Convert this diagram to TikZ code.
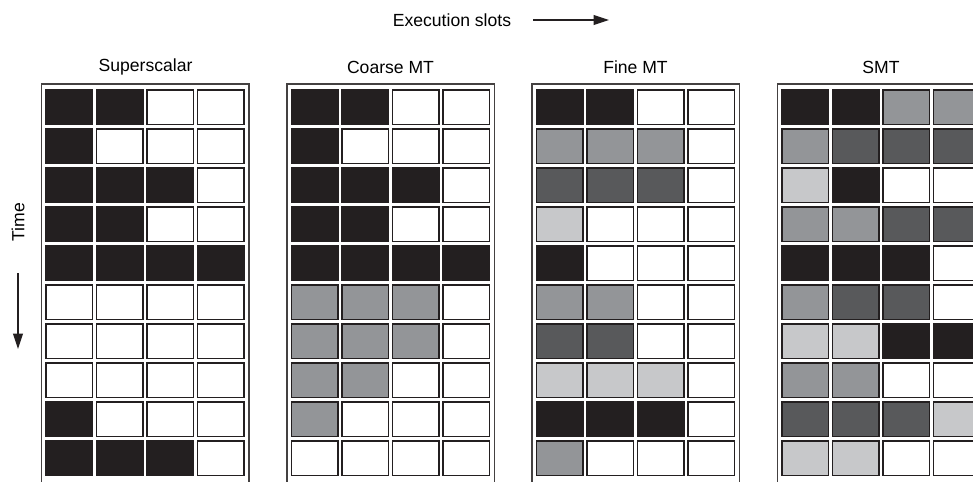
\documentclass[tikz,border=0pt]{standalone}
\usepackage{fontspec}
\setmainfont{Liberation Sans}
\usetikzlibrary{arrows.meta}

\begin{document}
\begin{tikzpicture}[x=0.025cm,y=-0.025cm,font=\fontsize{12.5}{15}\selectfont,
    cellbox/.style={draw=cellB,line width=1.1pt},
    panelframe/.style={draw=cellB!85,line width=0.9pt},
    slotarrow/.style={-{Triangle[length=11pt,width=7pt]},line width=0.8pt,draw=cellB}]
  \definecolor{cellB}{HTML}{231F20}
  \definecolor{cellD}{HTML}{58595B}
  \definecolor{cellM}{HTML}{939598}
  \definecolor{cellL}{HTML}{C7C8CA}
  \definecolor{cellW}{HTML}{FFFFFF}
  \useasboundingbox (0,0) rectangle (973,481);

  \node (slots) at (452,20) {Execution slots};
  \coordinate (slotsstart) at (533,20);
  \coordinate (slotsend) at (609,20);
  \draw[slotarrow] (slotsstart) -- (slotsend);

  \node[rotate=90] (time) at (18,222) {Time};
  \coordinate (timestart) at (18,273);
  \coordinate (timeend) at (18,349);
  \draw[slotarrow] (timestart) -- (timeend);

  \node (superscalar) at (145.5,67) {Superscalar};
  \node (coarse) at (390.5,67) {Coarse MT};
  \node (fine) at (635.5,67) {Fine MT};
  \node (smt) at (881,67) {SMT};

  % Superscalar
  \begin{scope}[shift={(41.7,84)}]
    \draw[panelframe] (0,0) rectangle (207.3,399);
    \foreach \row [count=\r from 0] in {{B,B,W,W},{B,W,W,W},{B,B,B,W},{B,B,W,W},{B,B,B,B},
        {W,W,W,W},{W,W,W,W},{W,W,W,W},{B,W,W,W},{B,B,B,W}}
      \foreach \c [count=\k from 0] in \row
        \draw[cellbox,fill=cell\c] (4.5+50.5*\k,6+39*\r) rectangle ++(46.5,34.5);
  \end{scope}

  % Coarse MT
  \begin{scope}[shift={(287,84)}]
    \draw[panelframe] (0,0) rectangle (207.3,399);
    \foreach \row [count=\r from 0] in {{B,B,W,W},{B,W,W,W},{B,B,B,W},{B,B,W,W},{B,B,B,B},
        {M,M,M,W},{M,M,M,W},{M,M,W,W},{M,W,W,W},{W,W,W,W}}
      \foreach \c [count=\k from 0] in \row
        \draw[cellbox,fill=cell\c] (4.5+50.5*\k,6+39*\r) rectangle ++(46.5,34.5);
  \end{scope}

  % Fine MT
  \begin{scope}[shift={(532,84)}]
    \draw[panelframe] (0,0) rectangle (207.3,399);
    \foreach \row [count=\r from 0] in {{B,B,W,W},{M,M,M,W},{D,D,D,W},{L,W,W,W},{B,W,W,W},
        {M,M,W,W},{D,D,W,W},{L,L,L,W},{B,B,B,W},{M,W,W,W}}
      \foreach \c [count=\k from 0] in \row
        \draw[cellbox,fill=cell\c] (4.5+50.5*\k,6+39*\r) rectangle ++(46.5,34.5);
  \end{scope}

  % SMT
  \begin{scope}[shift={(777.3,84)}]
    \draw[panelframe] (0,0) rectangle (207.3,399);
    \foreach \row [count=\r from 0] in {{B,B,M,M},{M,D,D,D},{L,B,W,W},{M,M,D,D},{B,B,B,W},
        {M,D,D,W},{L,L,B,B},{M,M,W,W},{D,D,D,L},{L,L,W,W}}
      \foreach \c [count=\k from 0] in \row
        \draw[cellbox,fill=cell\c] (4.5+50.5*\k,6+39*\r) rectangle ++(46.5,34.5);
  \end{scope}
\end{tikzpicture}
\end{document}
